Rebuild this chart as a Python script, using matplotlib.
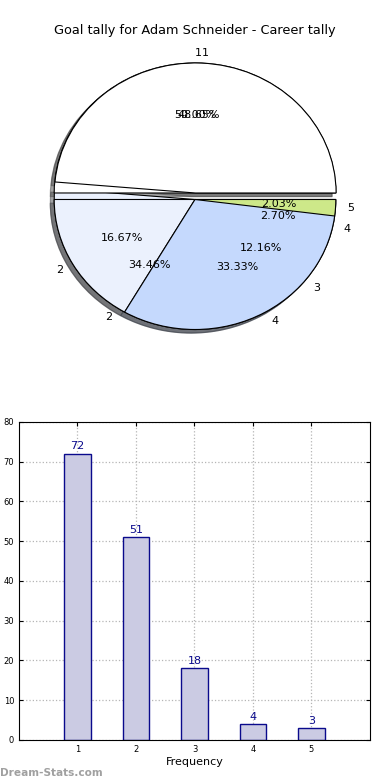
import matplotlib.pyplot as plt

# career goal tally (frequency of goals per match)
goals = ['1', '2', '3', '4', '5']
frequency = [72, 51, 18, 4, 3]

# second tally drawn over the same pie
tally_labels = ['1', '2', '4']
tally_values = [3, 1, 2]

pie_colors = ['#ffffff', '#ebf1fd', '#c5d9fd', '#c5d9fd', '#cde889']

fig = plt.figure(figsize=(3.9, 7.8), dpi=100)

ax = fig.add_axes([0.0487, 0.5359, 0.9026, 0.4167])
wa, ta, pa = ax.pie(frequency, labels=goals, colors=pie_colors, explode=(0.05, 0, 0, 0, 0),
                    autopct='%1.2f%%', shadow=True, pctdistance=0.6, labeldistance=1.08,
                    wedgeprops={'edgecolor': 'black', 'linewidth': 0.8},
                    textprops={'fontsize': 8})
wb, tb, pb = ax.pie(tally_values, labels=tally_labels, colors=pie_colors[:3], explode=(0.05, 0, 0),
                    autopct='%1.2f%%', shadow=True, pctdistance=0.6, labeldistance=1.08,
                    wedgeprops={'edgecolor': 'black', 'linewidth': 0.8},
                    textprops={'fontsize': 8})
for w in wb:
    w.set_zorder(2)
for i in (0, 4):
    wa[i].set_zorder(3)
for t in ta + pa + tb + pb:
    t.set_zorder(5)
tb[0].set_ha('left')
ax.set_aspect('auto')
ax.set_xlim(-1.25, 1.25)
ax.set_ylim(-1.25, 1.25)
ax.set_title('Goal tally for Adam Schneider - Career tally', fontsize=9.3, pad=2)

ax2 = fig.add_axes([0.0487, 0.0513, 0.9, 0.4077])
x = range(1, len(frequency) + 1)
ax2.bar(x, frequency, width=0.45, color='#cbcbe3', edgecolor='#0a0a8c', linewidth=1, zorder=2)
for xi, v in zip(x, frequency):
    ax2.text(xi, v + 0.6, str(v), ha='center', va='bottom', color='#0a0a8c', fontsize=8)
ax2.set_xlim(0, 6)
ax2.set_ylim(0, 80)
ax2.set_xticks(list(x))
ax2.set_xticklabels(goals)
ax2.set_yticks(range(0, 81, 10))
ax2.tick_params(labelsize=6, direction='in', length=3, top=True, right=True)
ax2.grid(True, linestyle=':', color='#b5b5b5', linewidth=0.9, zorder=0)
ax2.set_axisbelow(True)
ax2.set_xlabel('Frequency', fontsize=8, labelpad=2)

fig.text(0.0, 0.005, 'Dream-Stats.com', fontsize=7.6, color='#a0a0a0', fontweight='bold')

plt.savefig('out.png', dpi=100)
